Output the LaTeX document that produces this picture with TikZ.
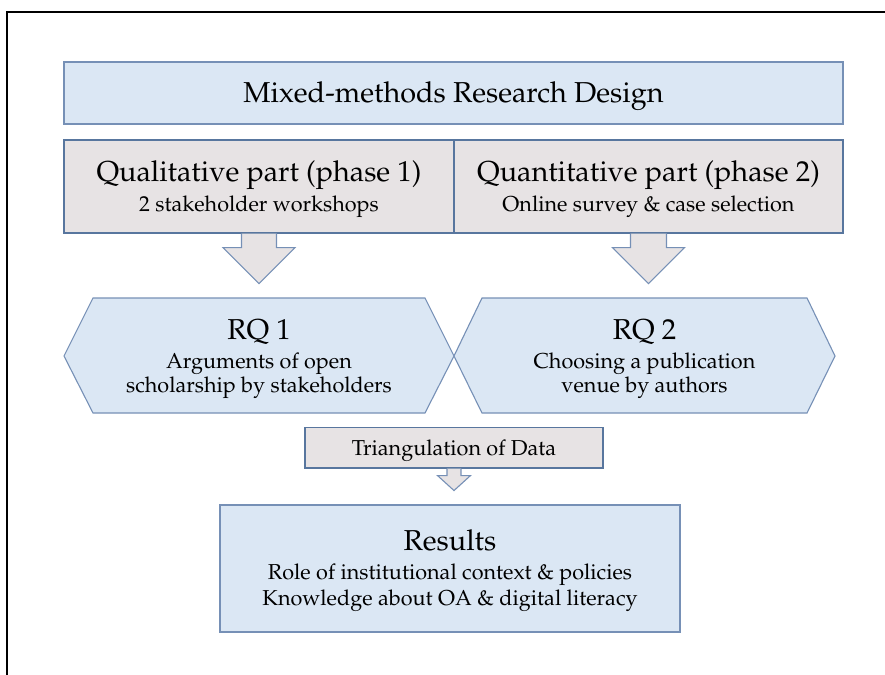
\documentclass[tikz,border=0pt]{standalone}
\IfFileExists{t1ppl.fd}{%
  \usepackage[T1]{fontenc}
  \renewcommand\rmdefault{ppl}
  \newcommand\bigsz{\fontsize{28.8bp}{30bp}\selectfont}
  \newcommand\smallsz{\fontsize{21.6bp}{24bp}\selectfont}
}{%
  \usepackage{fontspec}
  \setmainfont{Liberation Serif}
  \newcommand\bigsz{\fontsize{31.5bp}{33bp}\selectfont}
  \newcommand\smallsz{\fontsize{23.6bp}{26bp}\selectfont}
}
\usetikzlibrary{calc}
\definecolor{bfill}{RGB}{219,231,244}
\definecolor{bline}{RGB}{118,144,182}
\definecolor{gfill}{RGB}{231,227,228}
\definecolor{gline}{RGB}{88,118,158}
\tikzset{
  bluebox/.style={draw=bline, fill=bfill, line width=1.1bp, inner sep=0pt},
  graybox/.style={draw=gline, fill=gfill, line width=1.1bp, inner sep=0pt},
  arrowblk/.style={draw=bline, fill=gfill, line width=1.1bp, line join=miter},
  bigtxt/.style={font=\bigsz, anchor=base, inner sep=0pt},
  smalltxt/.style={font=\smallsz, anchor=base, inner sep=0pt},
}
\begin{document}
\begin{tikzpicture}[x=1bp,y=-1bp]
\useasboundingbox (0,0) rectangle (885,675);
% frame
\draw[line width=2bp, line cap=rect] (7,675) -- (7,12) -- (885,12);

% phase boxes
\node[graybox, minimum width=390bp, minimum height=93bp] (qual) at (259,186.5) {};
\node[graybox, minimum width=389bp, minimum height=93bp] (quant) at (648.5,186.5) {};
% block arrows
\draw[arrowblk] ($(qual.south)+(-17.5,0)$) -- ++(0,14) -- ++(-18.5,0)
   -- ($(qual.south)+(0,50)$) -- ($(qual.south)+(36,14)$) -- ($(qual.south)+(17.5,14)$)
   -- ($(qual.south)+(17.5,0)$);
\draw[arrowblk] ($(quant.south)+(-18,0)$) -- ++(0,14) -- ++(-18,0)
   -- ($(quant.south)+(0,50)$) -- ($(quant.south)+(36,14)$) -- ($(quant.south)+(18,14)$)
   -- ($(quant.south)+(18,0)$);

% title box
\node[bluebox, minimum width=779bp, minimum height=62bp] (title) at (453.5,93) {};
\node[bigtxt] (titletxt) at (453.5,103) {Mixed-methods Research Design};

% phase boxes texts
\node[bigtxt] (qualtxt) at (259,181) {Qualitative part (phase 1)};
\node[smalltxt] (qualsub) at (259,211.5) {2 stakeholder workshops};
\node[bigtxt] (quanttxt) at (648.5,181) {Quantitative part (phase 2)};
\node[smalltxt] (quantsub) at (648.5,211.5) {Online survey \& case selection};

% RQ hexagons
\draw[bluebox] (64,356) -- (93,298) -- (425,298) -- (454,356) -- (425,413) -- (93,413) -- cycle;
\draw[bluebox] (454,356) -- (482,298) -- (807,298) -- (835,356) -- (807,413) -- (482,413) -- cycle;
\node[bigtxt] (rq1) at (259,339) {RQ 1};
\node[smalltxt] (rq1a) at (259,368) {Arguments of open};
\node[smalltxt] (rq1b) at (259,392) {scholarship by stakeholders};
\node[bigtxt] (rq2) at (644.5,339) {RQ 2};
\node[smalltxt] (rq2a) at (644.5,368) {Choosing a publication};
\node[smalltxt] (rq2b) at (644.5,392) {venue by authors};

% triangulation
\node[graybox, minimum width=298bp, minimum height=40.5bp] (tri) at (454,447.75) {};
\draw[arrowblk] ($(tri.south)+(-7,0)$) -- ++(0,7) -- ++(-9.5,0)
   -- ($(tri.south)+(0,22)$) -- ($(tri.south)+(16.5,7)$) -- ($(tri.south)+(7,7)$)
   -- ($(tri.south)+(7,0)$);
\node[smalltxt] (tritxt) at (454,455) {Triangulation of Data};

% results
\node[bluebox, minimum width=460bp, minimum height=127bp] (res) at (450,568.5) {};
\node[bigtxt] (restxt) at (450,550) {Results};
\node[smalltxt] (res1) at (450,579) {Role of institutional context \& policies};
\node[smalltxt] (res2) at (450,605) {Knowledge about OA \& digital literacy};
\end{tikzpicture}
\end{document}
